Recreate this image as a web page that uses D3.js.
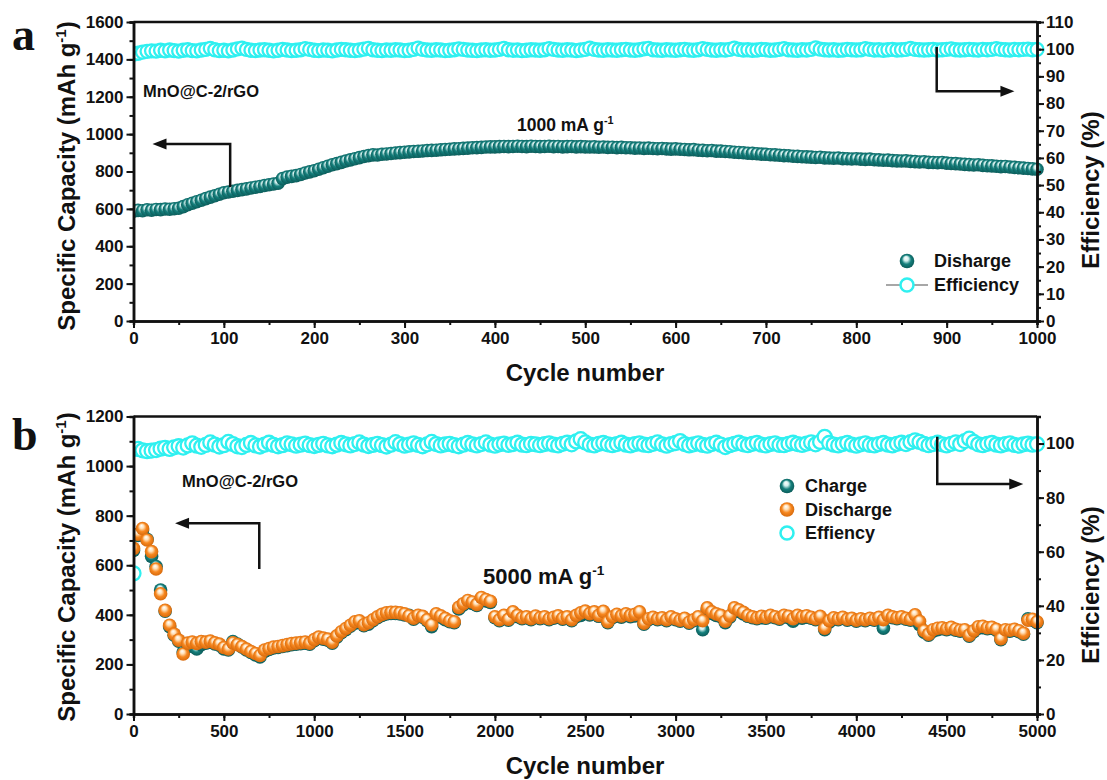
<!DOCTYPE html>
<html>
<head>
<meta charset="utf-8">
<script src="https://cdn.jsdelivr.net/npm/d3@7"></script>
<style>
  body { margin: 0; background: #fff; }
  svg { display: block; }
  text { font-family: "Liberation Sans", Arial, sans-serif; font-weight: bold; fill: #111; }
</style>
</head>
<body>
<svg id="chart" width="1107" height="780"></svg>
<script>
// ---------- Panel (a): 1000 mA g-1, sampled every 5 cycles ----------
const cyclesA = d3.range(0, 1001, 5);
const dischargeA = [
  588, 592, 590, 595, 593, 597, 596, 599, 598, 601,
  603, 612, 622, 630, 638, 646, 655, 663, 670, 678,
  686, 690, 694, 699, 703, 707, 712, 716, 720, 725,
  729, 733, 737, 762, 770, 774, 778, 784, 792, 798,
  804, 812, 820, 828, 836, 842, 849, 856, 862, 868,
  874, 880, 885, 889, 888, 892, 894, 896, 899, 901,
  903, 905, 907, 908, 910, 912, 913, 914, 916, 918,
  919, 921, 922, 924, 925, 927, 928, 929, 931, 932,
  932, 933, 934, 933, 934, 935, 934, 933, 935, 934,
  933, 934, 935, 933, 934, 932, 933, 934, 932, 933,
  932, 931, 932, 930, 931, 929, 930, 928, 929, 927,
  927, 925, 926, 924, 925, 923, 922, 923, 921, 920,
  921, 919, 918, 916, 917, 914, 913, 911, 912, 909,
  909, 907, 906, 903, 902, 900, 898, 897, 895, 893,
  892, 890, 889, 887, 885, 884, 882, 881, 879, 878,
  877, 875, 876, 873, 872, 871, 872, 869, 868, 867,
  868, 866, 865, 866, 863, 862, 860, 861, 858, 857,
  856, 857, 854, 853, 851, 852, 849, 848, 847, 848,
  845, 843, 842, 840, 838, 837, 835, 836, 833, 831,
  830, 828, 826, 827, 824, 822, 820, 818, 816, 814,
  812
];
const efficiencyA = [
  98.2, 98.5, 98.9, 99.2, 99.4, 99.3, 99.6, 99.4, 99.7, 99.5,
  99.3, 99.6, 99.8, 99.5, 99.4, 99.7, 99.9, 100.3, 99.8, 99.5,
  99.6, 99.4, 99.7, 100.1, 100.4, 99.9, 99.6, 99.5, 99.7, 99.8,
  99.6, 99.4, 99.6, 99.9, 99.7, 99.5, 99.6, 99.8, 100.2, 99.9,
  99.6, 99.5, 99.7, 99.6, 99.4, 99.7, 99.9, 99.8, 99.6, 99.5,
  99.7, 100.0, 100.3, 99.8, 99.6, 99.5, 99.7, 99.6, 99.8, 99.7,
  99.5, 99.6, 99.9, 100.4, 99.9, 99.7, 99.6, 99.8, 99.7, 99.5,
  99.6, 99.8, 100.1, 99.9, 99.7, 99.6, 99.5, 99.7, 99.8, 99.6,
  99.7, 99.9, 100.3, 99.8, 99.6, 99.7, 99.5, 99.6, 99.8, 99.7,
  99.6, 99.8, 100.2, 99.9, 99.7, 99.6, 99.8, 99.7, 99.5, 99.7,
  99.9, 100.4, 99.9, 99.7, 99.6, 99.8, 99.7, 99.6, 99.8, 99.9,
  99.7, 99.6, 99.8, 100.1, 100.3, 99.8, 99.7, 99.6, 99.8, 99.7,
  99.6, 99.8, 99.9, 99.7, 99.6, 99.8, 100.2, 99.9, 99.7, 99.6,
  99.8, 99.7, 99.9, 100.4, 99.9, 99.7, 99.8, 99.6, 99.7, 99.9,
  99.8, 99.6, 99.7, 99.9, 100.2, 99.8, 99.7, 99.6, 99.8, 99.7,
  99.9, 100.5, 100.0, 99.8, 99.7, 99.8, 99.6, 99.7, 99.9, 99.8,
  99.7, 99.8, 100.2, 99.9, 99.7, 99.8, 99.6, 99.8, 99.9, 99.7,
  99.8, 99.9, 100.3, 99.9, 99.8, 99.7, 99.8, 99.9, 99.7, 99.8,
  99.9, 100.1, 99.8, 99.7, 99.8, 99.9, 99.8, 99.7, 99.9, 99.8,
  99.9, 100.2, 99.9, 99.8, 99.7, 99.9, 99.8, 99.9, 100.0, 99.8,
  99.9
];

// ---------- Panel (b): 5000 mA g-1, sampled every 25 cycles ----------
const cyclesB = d3.range(0, 5001, 25);
const chargeB = [
  660, 720, 742, 705, 636, 595, 500, 415, 352, 318,
  294, 250, 278, 272, 262, 280, 286, 290, 283, 278,
  262, 258, 292, 282, 270, 258, 248, 238, 230, 252,
  260, 266, 268, 272, 276, 280, 282, 284, 286, 282,
  296, 306, 302, 298, 286, 310, 328, 340, 354, 366,
  370, 356, 362, 376, 388, 398, 404, 406, 406, 404,
  400, 398, 382, 394, 390, 376, 352, 396, 390, 380,
  372, 368, 424, 440, 452, 446, 438, 464, 456, 450,
  388, 376, 392, 378, 406, 392, 384, 388, 380, 390,
  384, 388, 380, 386, 390, 382, 388, 376, 392, 398,
  408, 400, 406, 394, 408, 368, 388, 396, 390, 398,
  392, 396, 404, 362, 380, 386, 380, 384, 376, 386,
  380, 374, 382, 366, 376, 384, 340, 420, 406, 398,
  392, 368, 390, 420, 414, 404, 394, 388, 384, 388,
  386, 392, 388, 382, 392, 388, 374, 392, 386, 390,
  386, 380, 388, 340, 370, 384, 380, 386, 378, 382,
  374, 380, 376, 382, 378, 386, 346, 392, 388, 384,
  388, 382, 378, 392, 360, 330, 318, 334, 340, 344,
  340, 344, 338, 334, 336, 314, 332, 346, 348, 344,
  346, 338, 300, 334, 334, 338, 332, 322, 384, 378,
  368
];
const dischargeB = [
  668, 725, 748, 702, 655, 585, 485, 418, 358, 322,
  298, 242, 286, 290, 285, 292, 290, 294, 287, 282,
  268, 262, 287, 280, 272, 262, 252, 244, 236, 258,
  264, 270, 272, 276, 280, 284, 286, 288, 290, 286,
  300, 310, 306, 302, 290, 315, 332, 345, 358, 372,
  376, 360, 368, 380, 392, 402, 408, 410, 410, 408,
  404, 396, 386, 398, 394, 380, 360, 404, 396, 386,
  376, 372, 430, 445, 458, 452, 442, 470, 462, 455,
  392, 380, 398, 382, 412, 398, 388, 392, 384, 395,
  388, 392, 384, 390, 396, 386, 392, 380, 398, 408,
  415, 405, 412, 398, 414, 372, 392, 402, 396, 404,
  398, 402, 412, 366, 384, 390, 384, 388, 380, 392,
  384, 378, 386, 370, 380, 392, 376, 428, 412, 404,
  398, 374, 396, 428, 420, 410, 398, 392, 388, 394,
  390, 398, 392, 386, 398, 394, 384, 398, 392, 396,
  390, 384, 394, 346, 376, 388, 384, 390, 382, 386,
  378, 384, 380, 386, 382, 390, 380, 398, 392, 388,
  392, 386, 382, 400, 374, 336, 322, 340, 346, 348,
  344, 350, 342, 338, 340, 318, 336, 352, 354, 348,
  350, 342, 304, 340, 338, 342, 336, 326, 378, 382,
  372
];
const efficiencyB = [
  52.0, 98.0, 97.5, 97.2, 97.4, 97.6, 98.1, 98.4, 98.0, 98.6,
  99.0, 98.5, 99.3, 100.1, 99.2, 98.8, 99.5, 100.4, 99.6, 98.9,
  99.4, 100.6, 99.8, 99.0, 98.7, 99.5, 100.2, 99.3, 98.9, 99.6,
  100.3, 99.5, 99.0, 99.4, 100.1, 99.7, 99.2, 99.6, 100.0, 99.4,
  99.1, 99.5, 99.9, 99.3, 99.0, 99.6, 100.2, 99.7, 99.3, 99.8,
  100.4, 99.6, 99.1, 99.5, 99.9, 99.4, 98.9, 99.6, 100.5, 99.8,
  99.2, 99.6, 100.1, 99.5, 99.0, 99.7, 100.6, 99.8, 99.3, 99.7,
  99.9, 99.4, 99.0, 99.6, 100.2, 99.7, 99.3, 99.8, 100.4, 99.6,
  99.2, 99.7, 100.0, 99.5, 99.8, 100.3, 99.6, 99.4, 99.9, 99.7,
  99.4, 99.8, 100.1, 99.6, 99.3, 99.9, 100.3, 99.7, 100.8, 101.6,
  100.4, 99.6, 99.3, 99.9, 100.2, 99.7, 99.4, 99.8, 100.3, 99.6,
  99.3, 99.8, 100.1, 99.6, 99.4, 99.9, 100.4, 99.7, 99.2, 99.8,
  100.2, 100.9, 99.8, 99.3, 99.7, 100.1, 99.5, 99.2, 99.8, 100.3,
  99.6, 98.7, 99.4, 99.9, 100.3, 99.7, 99.4, 99.9, 100.2, 99.6,
  99.3, 99.8, 100.1, 99.5, 99.4, 99.9, 100.3, 99.8, 99.5, 100.0,
  100.4, 99.7, 100.6, 102.5, 100.2, 99.6, 99.3, 99.8, 100.2, 99.6,
  99.2, 99.7, 100.1, 99.5, 99.3, 99.8, 100.2, 99.6, 99.3, 99.9,
  100.3, 99.8, 100.5, 101.2, 100.6, 99.9, 99.4, 99.8, 100.3, 99.7,
  99.3, 99.9, 100.4, 99.8, 100.9, 101.8, 100.6, 99.7, 99.4, 99.9,
  100.2, 99.6, 99.3, 99.8, 100.1, 99.5, 99.2, 99.7, 100.0, 99.6,
  99.8
];

// ---------- Colours ----------
const TEAL = { light: "#d2f0ee", base: "#15807d", dark: "#0a5654" };
const ORANGE = { light: "#ffe0b8", base: "#f7871f", dark: "#d0650a" };
const CYAN = "#2ff0f0";

const svg = d3.select("#chart");
const defs = svg.append("defs");

// shaded "ball" fill with a bright highlight near the top
function sphereGradient(id, c) {
  const g = defs.append("radialGradient").attr("id", id)
    .attr("cx", 0.5).attr("cy", 0.5).attr("r", 0.55)
    .attr("fx", 0.42).attr("fy", 0.28);
  g.append("stop").attr("offset", "0%").attr("stop-color", "#ffffff");
  g.append("stop").attr("offset", "28%").attr("stop-color", c.light);
  g.append("stop").attr("offset", "58%").attr("stop-color", c.base);
  g.append("stop").attr("offset", "100%").attr("stop-color", c.dark);
}
sphereGradient("tealBall", TEAL);
sphereGradient("orangeBall", ORANGE);

// Draws one panel: frame, axes with major/minor ticks, titles and series.
function drawPanel(cfg) {
  const x = d3.scaleLinear().domain([0, cfg.xMax]).range([133.5, 1037]);
  const y = d3.scaleLinear().domain([0, cfg.yMax]).range([cfg.bottom, cfg.top]);
  const yr = d3.scaleLinear().domain([0, cfg.rMax]).range([cfg.bottom, cfg.top]);
  const g = svg.append("g");

  const clipId = "clip" + cfg.id;
  defs.append("clipPath").attr("id", clipId).append("rect")
    .attr("x", x(0)).attr("y", cfg.top - 20)
    .attr("width", 1107 - x(0)).attr("height", cfg.bottom - cfg.top + 20);
  const plot = g.append("g").attr("clip-path", `url(#${clipId})`);

  cfg.series.forEach(s => {
    const pts = s.values.map((v, i) => [cfg.cycles[i], v]);
    const sy = s.axis === "right" ? yr : y;
    if (s.kind === "ring") {
      if (s.line) {
        plot.append("path")
          .attr("d", d3.line().x(d => x(d[0])).y(d => sy(d[1]))(pts))
          .attr("fill", "none").attr("stroke", "#8a8a8a").attr("stroke-width", 1);
      }
      plot.append("g").selectAll("circle").data(pts).join("circle")
        .attr("cx", d => x(d[0])).attr("cy", d => sy(d[1])).attr("r", s.r)
        .attr("fill", "#fff").attr("stroke", CYAN).attr("stroke-width", 2.3);
    } else {
      plot.append("g").selectAll("circle").data(pts).join("circle")
        .attr("cx", d => x(d[0])).attr("cy", d => sy(d[1])).attr("r", s.r)
        .attr("fill", `url(#${s.grad})`);
    }
  });

  // frame top line
  g.append("line").attr("x1", x(0)).attr("x2", x(cfg.xMax))
    .attr("y1", cfg.top).attr("y2", cfg.top)
    .attr("stroke", "#111").attr("stroke-width", 2.5);

  const styleAxis = sel => {
    sel.select(".domain").attr("stroke", "#111").attr("stroke-width", 2.5);
    sel.selectAll(".tick line").attr("stroke", "#111").attr("stroke-width", 2);
    sel.selectAll(".tick text").style("font-size", "17px")
      .style("font-family", '"Liberation Sans", Arial, sans-serif')
      .style("font-weight", "bold").attr("fill", "#111");
  };

  // minor ticks first (no labels)
  g.append("g").attr("transform", `translate(0,${cfg.bottom})`)
    .call(d3.axisBottom(x).tickValues(d3.range(0, cfg.xMax + 1, cfg.xMinor)).tickSize(4).tickFormat(""))
    .call(styleAxis);
  g.append("g").attr("transform", `translate(${x(0)},0)`)
    .call(d3.axisLeft(y).tickValues(d3.range(0, cfg.yMax + 1, cfg.yMinor)).tickSize(4).tickFormat(""))
    .call(styleAxis);
  g.append("g").attr("transform", `translate(${x(cfg.xMax)},0)`)
    .call(d3.axisRight(yr).tickValues(d3.range(0, cfg.rMax + 0.1, cfg.rMinor)).tickSize(4).tickFormat(""))
    .call(styleAxis);

  // major ticks with labels
  g.append("g").attr("transform", `translate(0,${cfg.bottom})`)
    .call(d3.axisBottom(x).tickValues(d3.range(0, cfg.xMax + 1, cfg.xMajor)).tickSize(7).tickPadding(4).tickSizeOuter(0).tickFormat(d3.format("d")))
    .call(styleAxis);
  g.append("g").attr("transform", `translate(${x(0)},0)`)
    .call(d3.axisLeft(y).tickValues(d3.range(0, cfg.yMax + 1, cfg.yMajor)).tickSize(7).tickPadding(3).tickSizeOuter(0).tickFormat(d3.format("d")))
    .call(styleAxis);
  g.append("g").attr("transform", `translate(${x(cfg.xMax)},0)`)
    .call(d3.axisRight(yr).tickValues(d3.range(0, cfg.rMax + 0.1, cfg.rMajor)).tickSize(7).tickPadding(2).tickSizeOuter(0).tickFormat(d3.format("d")))
    .call(styleAxis);

  // axis titles
  g.append("text").attr("x", 585).attr("y", cfg.bottom + 60)
    .attr("text-anchor", "middle").style("font-size", "24px").text("Cycle number");

  const lt = g.append("text")
    .attr("transform", `translate(75,${cfg.leftTitleY}) rotate(-90)`)
    .attr("text-anchor", "middle").style("font-size", "24px");
  lt.append("tspan").text("Specific Capacity (mAh g");
  lt.append("tspan").attr("dy", -9).style("font-size", "15px").text("-1");
  lt.append("tspan").attr("dy", 9).text(")");

  g.append("text")
    .attr("transform", `translate(1099,${cfg.rightTitleY}) rotate(-90)`)
    .attr("text-anchor", "middle").style("font-size", "24px").text("Efficiency (%)");

  // panel letter
  g.append("text").attr("x", 12).attr("y", cfg.letterY)
    .style("font-family", '"Liberation Serif", "Times New Roman", serif')
    .style("font-size", "46px").text(cfg.letter);

  // sample name
  g.append("text").attr("x", cfg.nameX).attr("y", cfg.nameY)
    .style("font-size", "16.5px").text("MnO@C-2/rGO");

  // current density
  const cd = g.append("text").attr("x", cfg.rate.x).attr("y", cfg.rate.y)
    .style("font-size", cfg.rate.size + "px");
  cd.append("tspan").text(cfg.rate.label + " mA g");
  cd.append("tspan").attr("dy", -cfg.rate.size * 0.4).style("font-size", (cfg.rate.size * 0.62) + "px").text("-1");

  // bent arrows pointing to the relevant axis
  cfg.arrows.forEach(a => {
    const sy = a.axis === "right" ? yr : y;
    const p0 = [x(a.from[0]), sy(a.from[1])];
    const p1 = [x(a.corner[0]), sy(a.corner[1])];
    const p2 = [x(a.tip[0]), sy(a.tip[1])];
    const dir = Math.sign(p2[0] - p1[0]);
    const headLen = 14, headHalf = 5.5;
    g.append("path")
      .attr("d", `M${p0[0]},${p0[1]}L${p1[0]},${p1[1]}L${p2[0] - dir * headLen + dir},${p2[1]}`)
      .attr("fill", "none").attr("stroke", "#111").attr("stroke-width", 2.5);
    g.append("path")
      .attr("d", `M${p2[0]},${p2[1]}L${p2[0] - dir * headLen},${p2[1] - headHalf}L${p2[0] - dir * headLen},${p2[1] + headHalf}Z`)
      .attr("fill", "#111");
  });

  // legend
  cfg.legend.forEach((item, i) => {
    const ly = cfg.legendY + i * cfg.legendStep;
    if (item.kind === "ring") {
      if (item.line) {
        g.append("line").attr("x1", cfg.legendX - 21).attr("x2", cfg.legendX + 21)
          .attr("y1", ly).attr("y2", ly).attr("stroke", "#8a8a8a").attr("stroke-width", 1.3);
      }
      g.append("circle").attr("cx", cfg.legendX).attr("cy", ly).attr("r", 6.5)
        .attr("fill", "#fff").attr("stroke", CYAN).attr("stroke-width", 2.5);
    } else {
      g.append("circle").attr("cx", cfg.legendX).attr("cy", ly).attr("r", 7.3)
        .attr("fill", `url(#${item.grad})`);
    }
    g.append("text").attr("x", cfg.legendTextX).attr("y", ly).attr("dy", "0.35em")
      .style("font-size", "18px").text(item.label);
  });
}

drawPanel({
  id: "A", letter: "a", letterY: 50,
  top: 22, bottom: 321,
  cycles: cyclesA, xMax: 1000, xMajor: 100, xMinor: 50,
  yMax: 1600, yMajor: 200, yMinor: 100,
  rMax: 110, rMajor: 10, rMinor: 5,
  leftTitleY: 176, rightTitleY: 190,
  nameX: 143, nameY: 97,
  rate: { label: "1000", x: 517, y: 131, size: 17.5 },
  series: [
    { kind: "ring", line: true, values: efficiencyA, axis: "right", r: 6.5 },
    { kind: "ball", values: dischargeA, axis: "left", grad: "tealBall", r: 6.8 }
  ],
  arrows: [
    { axis: "left", from: [107, 717], corner: [107, 947], tip: [21, 947] },
    { axis: "right", from: [889, 100.8], corner: [889, 84.5], tip: [975, 84.5] }
  ],
  legendX: 907, legendTextX: 934, legendY: 261, legendStep: 24,
  legend: [
    { kind: "ball", grad: "tealBall", label: "Disharge" },
    { kind: "ring", line: true, label: "Efficiency" }
  ]
});

drawPanel({
  id: "B", letter: "b", letterY: 450,
  top: 416.5, bottom: 714,
  cycles: cyclesB, xMax: 5000, xMajor: 500, xMinor: 250,
  yMax: 1200, yMajor: 200, yMinor: 100,
  rMax: 110, rMajor: 20, rMinor: 10,
  leftTitleY: 567, rightTitleY: 585,
  nameX: 182, nameY: 487,
  rate: { label: "5000", x: 483, y: 584, size: 22 },
  series: [
    { kind: "ring", line: false, values: efficiencyB, axis: "right", r: 7 },
    { kind: "ball", values: chargeB, axis: "left", grad: "tealBall", r: 6.8 },
    { kind: "ball", values: dischargeB, axis: "left", grad: "orangeBall", r: 6.8 }
  ],
  arrows: [
    { axis: "left", from: [696, 585], corner: [696, 769], tip: [230, 769] },
    { axis: "right", from: [4448, 102.5], corner: [4448, 85.0], tip: [4924, 85.0] }
  ],
  legendX: 787, legendTextX: 805, legendY: 486, legendStep: 23.5,
  legend: [
    { kind: "ball", grad: "tealBall", label: "Charge" },
    { kind: "ball", grad: "orangeBall", label: "Discharge" },
    { kind: "ring", line: false, label: "Effiency" }
  ]
});
</script>
</body>
</html>
